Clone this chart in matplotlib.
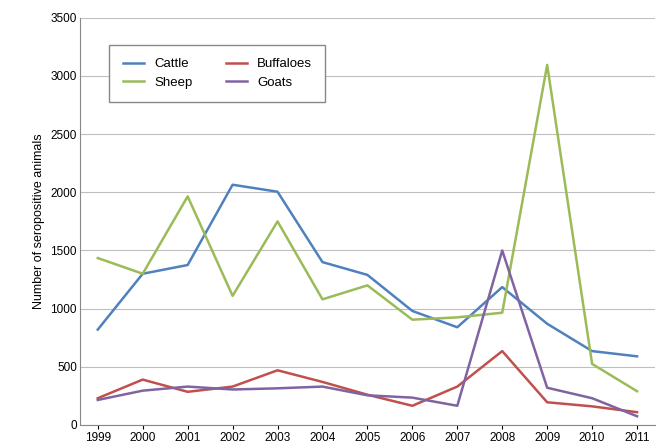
import numpy as np
import matplotlib.pyplot as plt

years = list(range(1999, 2012))
cattle = [820, 1300, 1375, 2065, 2005, 1400, 1290, 980, 840, 1185, 870, 635, 590]
buffaloes = [230, 390, 285, 330, 470, 370, 260, 165, 330, 635, 195, 160, 110]
sheep = [1435, 1300, 1965, 1110, 1750, 1080, 1200, 905, 925, 965, 3095, 525, 290]
goats = [215, 295, 330, 305, 315, 330, 255, 235, 165, 1500, 320, 230, 75]

plt.rcParams['font.family'] = ['Liberation Sans', 'DejaVu Sans']
fig, ax = plt.subplots(figsize=(6.65, 4.45), dpi=100)
fig.subplots_adjust(left=0.12, right=0.985, top=0.96, bottom=0.045)

l1, = ax.plot(years, cattle, color='#4F81BD', lw=1.8, label='Cattle')
l2, = ax.plot(years, buffaloes, color='#C0504D', lw=1.8, label='Buffaloes')
l3, = ax.plot(years, sheep, color='#9BBB59', lw=1.8, label='Sheep')
l4, = ax.plot(years, goats, color='#8064A2', lw=1.8, label='Goats')

ax.set_ylim(0, 3500)
ax.set_xlim(1998.6, 2011.4)
ax.set_yticks(range(0, 3501, 500))
ax.set_xticks(years)
ax.tick_params(labelsize=8.5, length=3, pad=2)
ax.tick_params(axis='y', length=0)
ax.grid(axis='y', color='#BFBFBF', lw=0.8)
ax.set_axisbelow(True)
for s in ['top', 'right']:
    ax.spines[s].set_visible(False)
ax.spines['left'].set_color('#888888')
ax.spines['bottom'].set_color('#888888')
ax.set_ylabel('Number of seropositive animals', fontsize=9)

leg = ax.legend([l1, l3, l2, l4], ['Cattle', 'Sheep', 'Buffaloes', 'Goats'],
                ncol=2, loc='upper left', bbox_to_anchor=(0.04, 0.95), fontsize=9.5,
                fancybox=False, framealpha=1, edgecolor='#888888',
                borderpad=1.0, columnspacing=2.5, handlelength=1.6)
fig.savefig('out.png')
